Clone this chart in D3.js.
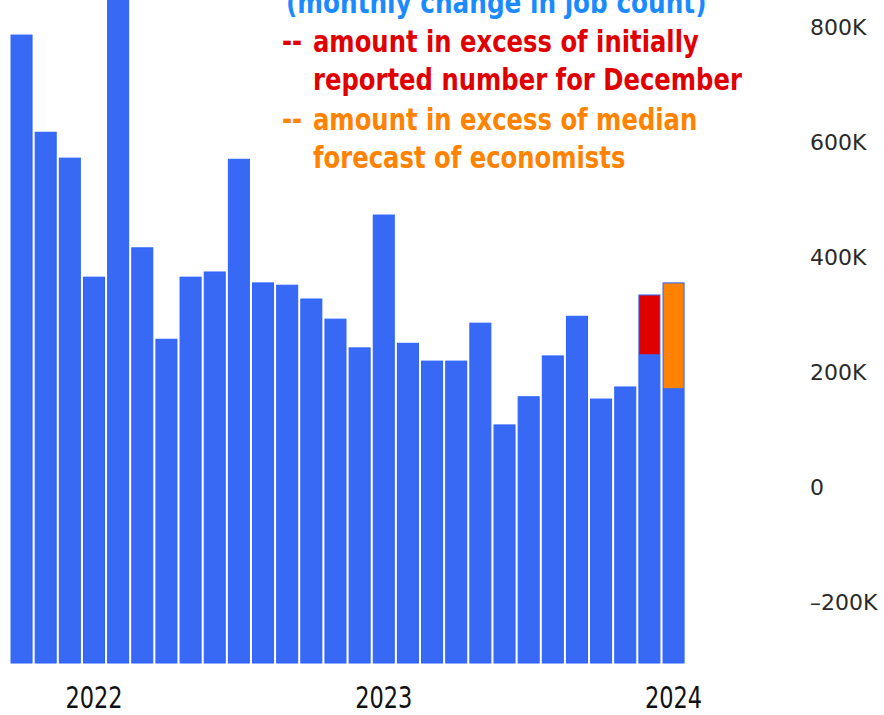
<!DOCTYPE html>
<html>
<head>
<meta charset="utf-8">
<script src="https://cdn.jsdelivr.net/npm/d3@7"></script>
<style>
  html, body { margin: 0; padding: 0; background: #fff; }
  svg { display: block; }
</style>
</head>
<body>
<div id="chart"></div>
<script>
const width = 884,
  height = 715

// months shown, Oct 2021 .. Jan 2024
const months = ['2021-10', '2021-11', '2021-12', '2022-01', '2022-02', '2022-03', '2022-04',
  '2022-05', '2022-06', '2022-07', '2022-08', '2022-09', '2022-10', '2022-11', '2022-12',
  '2023-01', '2023-02', '2023-03', '2023-04', '2023-05', '2023-06', '2023-07', '2023-08',
  '2023-09', '2023-10', '2023-11', '2023-12', '2024-01']

// monthly change in job count
const jobs = [786000, 617000, 572000, 365000, 904000, 416000, 257000,
  365000, 374000, 570000, 355000, 351000, 327000, 292000, 242000,
  473000, 250000, 219000, 219000, 285000, 108000, 157000, 228000,
  297000, 153000, 174000, 334000, 355000]

// the two highlighted months: blue part = initial report / median forecast
const highlightMonths = ['2023-12', '2024-01']
const highlightBase = [231000, 172000]
const highlightKind = ['initial', 'forecast']

const yTicks = [-200000, 0, 200000, 400000, 600000, 800000]
const yearTicks = ['2022-01', '2023-01', '2024-01']
const yearLabels = ['2022', '2023', '2024']

const legendLines = [
  { dash: false, text: '(monthly change in job count)', kind: 'title' },
  { dash: true, text: 'amount in excess of initially', kind: 'initial' },
  { dash: false, text: 'reported number for December', kind: 'initial' },
  { dash: true, text: 'amount in excess of median', kind: 'forecast' },
  { dash: false, text: 'forecast of economists', kind: 'forecast' }
]

const colors = { title: '#1a8bff', initial: '#e00000', forecast: '#ff8200' }

const svg = d3.select('#chart')
  .append('svg')
  .attr('width', width)
  .attr('height', height)
  .style('background-color', '#fff')

const xScale = d3.scaleBand()
  .domain(months)
  .range([7.9, 687.2])
  .padding(0.13)

const yScale = d3.scaleLinear()
  .domain([-306000, 847000])
  .range([663, 0])

const yBottom = yScale(yScale.domain()[0])

// bars
svg.append('g')
  .selectAll('rect')
  .data(months)
  .enter()
  .append('rect')
  .attr('x', (d) => xScale(d))
  .attr('y', (d, i) => yScale(jobs[i]))
  .attr('width', xScale.bandwidth())
  .attr('height', (d, i) => yBottom - yScale(jobs[i]))
  .style('fill', '#3769f5')
  .style('stroke', '#2b60ff')
  .style('stroke-width', 1)

// excess segments
svg.append('g')
  .selectAll('rect')
  .data(highlightMonths)
  .enter()
  .append('rect')
  .attr('x', (d) => xScale(d) + 0.5)
  .attr('y', (d) => yScale(jobs[months.indexOf(d)]) + 0.5)
  .attr('width', xScale.bandwidth() - 1)
  .attr('height', (d, i) => yScale(highlightBase[i]) - yScale(jobs[months.indexOf(d)]) - 0.5)
  .style('fill', (d, i) => colors[highlightKind[i]])

// y axis on the right
const yAxis = svg.append('g')
  .attr('transform', 'translate(800,0)')
  .call(d3.axisRight(yScale)
    .tickValues(yTicks)
    .tickSize(0)
    .tickPadding(10)
    .tickFormat((v) => v === 0 ? '0' : d3.format('~s')(v).toUpperCase().replace('\u2212', '\u2013')))
yAxis.select('.domain').remove()
yAxis.selectAll('text')
  .attr('font-family', '"DejaVu Sans", Verdana, sans-serif')
  .attr('font-size', '22px')
  .attr('fill', '#2a2a2a')
  .attr('dy', '0.36em')

// x axis, year labels
const xAxis = svg.append('g')
  .attr('transform', 'translate(0,' + yBottom + ')')
  .call(d3.axisBottom(xScale)
    .tickValues(yearTicks)
    .tickSize(0)
    .tickFormat((d) => yearLabels[yearTicks.indexOf(d)]))
xAxis.select('.domain').remove()
xAxis.selectAll('text')
  .attr('y', 0)
  .attr('dy', 0)
  .attr('transform', 'translate(0,45) scale(1,1.2)')
  .attr('font-family', '"DejaVu Sans Condensed", "DejaVu Sans", sans-serif')
  .attr('font-stretch', 'condensed')
  .attr('font-size', '25px')
  .attr('fill', '#111')

// legend text block
const baselines = [13, 52, 90, 130, 168]
const legend = svg.append('g')
  .attr('font-family', '"DejaVu Sans Condensed", "DejaVu Sans", sans-serif')
  .attr('font-stretch', 'condensed')
  .attr('font-weight', 'bold')

legendLines.forEach((l, i) => {
  const row = legend.append('g')
    .attr('transform', 'translate(0,' + baselines[i] + ') scale(1,1.12)')
    .attr('font-size', l.kind === 'title' ? '27.5px' : '27px')
    .style('fill', colors[l.kind])
  if (l.dash) {
    row.append('text').attr('x', 282).text('--')
  }
  row.append('text')
    .attr('x', l.kind === 'title' ? 286 : 313)
    .text(l.text)
})
</script>
</body>
</html>
